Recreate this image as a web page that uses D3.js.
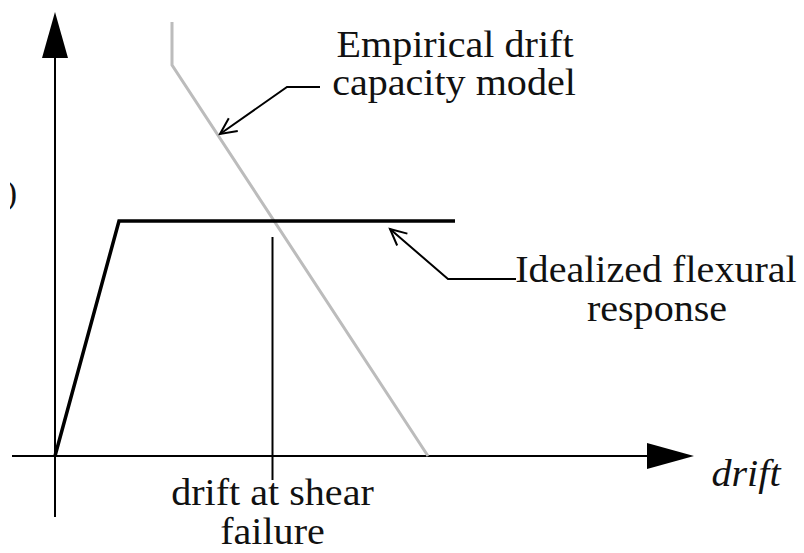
<!DOCTYPE html>
<html><head><meta charset="utf-8">
<script src="https://cdn.jsdelivr.net/npm/d3@7"></script>
<style>html,body{margin:0;padding:0;background:#fff;}svg{display:block;}
text{font-family:"Liberation Serif",Tinos,"Times New Roman",Times,serif;}</style>
</head><body>
<script>
// Data (arbitrary drift / force units)
const flexuralDrift = [0, 6.4, 40];
const flexuralForce = [0, 23.5, 23.5];
const capacityDrift = [11.7, 11.7, 37.3];
const capacityForce = [43.4, 39.1, 0];
const shearFailureDrift = 21.75;
const labels = {
  empirical: ["Empirical drift", "capacity model"],
  flexural: ["Idealized flexural", "response"],
  failure: ["drift at shear", "failure"],
  xAxis: "drift",
  yAxis: ")"
};

const W = 804, H = 553;
const svg = d3.select("body").append("svg").attr("width", W).attr("height", H);
const x = d3.scaleLinear().domain([0, 60]).range([55, 655]);
const y = d3.scaleLinear().domain([0, 40]).range([456, 56]);

const line = d3.line().x(d => x(d[0])).y(d => y(d[1]));

// axes
svg.append("line").attr("x1", x(-4.3)).attr("x2", x(59.5)).attr("y1", y(0)).attr("y2", y(0))
  .attr("stroke", "#000").attr("stroke-width", 2);
svg.append("line").attr("x1", x(0)).attr("x2", x(0)).attr("y1", y(-6.1)).attr("y2", y(40))
  .attr("stroke", "#000").attr("stroke-width", 2);
// axis arrowheads
svg.append("path").attr("d", `M${x(0)},${y(44.4)} L${x(0)-13},${y(39.8)} L${x(0)+13},${y(39.8)} Z`).attr("fill", "#000");
svg.append("path").attr("d", `M${x(63.9)},${y(0)} L${x(59.2)},${y(0)-13} L${x(59.2)},${y(0)+13} Z`).attr("fill", "#000");

// empirical drift capacity model (grey)
svg.append("path").attr("d", line(d3.zip(capacityDrift, capacityForce)))
  .attr("fill", "none").attr("stroke", "#bcbcbc").attr("stroke-width", 3);

// idealized flexural response
svg.append("path").attr("d", line(d3.zip(flexuralDrift, flexuralForce)))
  .attr("fill", "none").attr("stroke", "#000").attr("stroke-width", 3.5).attr("stroke-linejoin", "miter");

// drift at shear failure marker
svg.append("line").attr("x1", x(shearFailureDrift)).attr("x2", x(shearFailureDrift))
  .attr("y1", y(21.9)).attr("y2", y(-2.4)).attr("stroke", "#000").attr("stroke-width", 2);

// leader arrows
function openHead(tx, ty, fx, fy, len) {
  const a = Math.atan2(fy - ty, fx - tx), s = 0.45;
  const p1 = [tx + len*Math.cos(a+s), ty + len*Math.sin(a+s)];
  const p2 = [tx + len*Math.cos(a-s), ty + len*Math.sin(a-s)];
  return `M${p1[0]},${p1[1]} L${tx},${ty} L${p2[0]},${p2[1]}`;
}
const g = svg.append("g").attr("fill", "none").attr("stroke", "#000").attr("stroke-width", 2);
g.append("path").attr("d", `M320,87 L287,87 L220,134`);
g.append("path").attr("d", openHead(220, 134, 287, 87, 18));
g.append("path").attr("d", `M516,279 L448,279 L390,229`);
g.append("path").attr("d", openHead(390, 229, 448, 279, 18));

// text (slightly wide serif)
const t = (txt, xx, yy, anchor, style) => svg.append("text")
  .attr("transform", `translate(${xx},${yy}) scale(1.055,1)`)
  .attr("text-anchor", anchor).attr("font-size", 38)
  .attr("font-style", style || "normal").attr("fill", "#111").text(txt);
t(labels.empirical[0], 455, 57, "middle");
t(labels.empirical[1], 454, 95, "middle");
t(labels.flexural[0], 656, 282, "middle");
t(labels.flexural[1], 657, 321, "middle");
t(labels.failure[0], x(shearFailureDrift), 505, "middle");
t(labels.failure[1], x(shearFailureDrift), 544, "middle");
t(labels.xAxis, 746, 486, "middle", "italic");

// partially cropped y-axis label remnant
svg.append("clipPath").attr("id", "lc").append("rect").attr("x", 10).attr("y", 150).attr("width", 40).attr("height", 80);
svg.append("text").attr("clip-path", "url(#lc)").attr("x", 17).attr("y", 204)
  .attr("text-anchor", "end").attr("font-size", 34).attr("fill", "#111").text(labels.yAxis);
</script>
</body></html>
